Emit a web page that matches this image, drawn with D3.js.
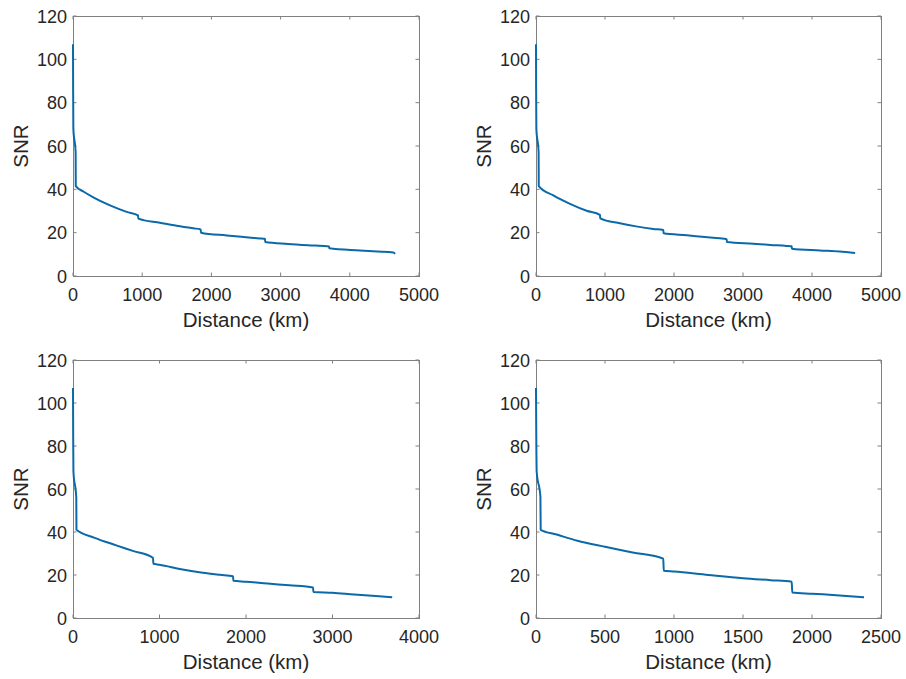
<!DOCTYPE html>
<meta charset="utf-8">
<title>SNR vs Distance</title>
<script src="https://d3js.org/d3.v7.min.js"></script>
<style>
	body { margin: 0; background: #fff; }
	svg { display: block; }
	text { font-family: "Liberation Sans", Arial, sans-serif; fill: #262626; }
	.box { fill: none; stroke: #808080; stroke-width: 1; }
	.tick line { stroke: #808080; }
	.curve { fill: none; stroke: #0a6aa9; stroke-width: 2; stroke-linejoin: round; }
</style>
<body>
<div id="chart"></div>
<script>

// --- data ---
var yTicks = [0, 20, 40, 60, 80, 100, 120];

var tlDist = [0, 2, 5, 38, 40, 150, 300, 535, 776, 940, 944, 1257, 1500, 1739, 1845, 1849, 2221, 2500, 2702, 2774, 2778, 3105, 3400, 3666, 3700, 3704, 4147, 4400, 4629, 4655];
var tlSnr  = [107, 85, 68, 57, 41.5, 39.0, 36.2, 32.6, 29.6, 28.0, 26.5, 24.6, 23.2, 22.0, 21.5, 20.0, 18.7, 17.9, 17.35, 17.15, 15.7, 14.8, 14.2, 13.75, 13.65, 12.8, 11.8, 11.3, 10.8, 10.2];

var trDist = [0, 2, 5, 38, 40, 251, 493, 734, 927, 931, 1217, 1450, 1700, 1845, 1849, 2187, 2450, 2666, 2763, 2767, 3149, 3400, 3632, 3705, 3709, 4115, 4400, 4625];
var trSnr  = [107, 85, 68, 57, 41.5, 37.2, 33.3, 30.1, 28.2, 26.6, 24.3, 22.9, 21.7, 21.2, 19.7, 18.8, 18.0, 17.4, 16.95, 15.7, 14.9, 14.35, 13.9, 13.7, 12.6, 11.8, 11.3, 10.6];

var blDist = [0, 2, 5, 38, 40, 250, 500, 700, 925, 929, 1000, 1250, 1500, 1700, 1850, 1854, 2000, 2250, 2500, 2775, 2779, 3000, 3250, 3500, 3690];
var blSnr  = [107, 85, 68, 56, 41, 37.3, 33.8, 31.1, 28.0, 25.2, 24.8, 22.7, 21.1, 20.1, 19.4, 17.3, 16.9, 16.0, 15.2, 14.2, 12.1, 11.7, 10.9, 10.2, 9.6];

var brDist = [0, 2, 5, 32, 34, 150, 300, 500, 700, 922, 926, 1000, 1250, 1500, 1700, 1853, 1857, 2000, 2200, 2377];
var brSnr  = [107, 85, 68, 56.4, 41, 38.8, 35.9, 33.1, 30.5, 27.6, 22.0, 21.6, 20.0, 18.5, 17.6, 16.9, 11.9, 11.3, 10.5, 9.6];

var xMaxes = [5000, 5000, 4000, 2500];
var xSteps = [1000, 1000, 1000, 500];

// --- layout ---
var W = 906, H = 679;
var frames = [
	{x: 73,  y: 16,  w: 346, h: 260},
	{x: 536, y: 16,  w: 345, h: 260},
	{x: 73,  y: 360, w: 346, h: 258},
	{x: 536, y: 360, w: 345, h: 258}
];
var series = [[tlDist, tlSnr], [trDist, trSnr], [blDist, blSnr], [brDist, brSnr]];

var svg = d3.select("#chart").append("svg")
	.attr("width", W)
	.attr("height", H);

frames.forEach(function(f, i) {
	var g = svg.append("g").attr("transform", "translate(" + f.x + "," + f.y + ")");

	var x = d3.scaleLinear().domain([0, xMaxes[i]]).range([0, f.w]);
	var y = d3.scaleLinear().domain([0, 120]).range([f.h, 0]);
	var xTicks = d3.range(0, xMaxes[i] + 1, xSteps[i]);

	// tick marks inside, on all four sides (matlab box style)
	var tl = 3.5;
	g.append("g").attr("class", "tick").selectAll("line.xb").data(xTicks).enter().append("line")
		.attr("x1", function(d){return x(d)}).attr("x2", function(d){return x(d)})
		.attr("y1", f.h).attr("y2", f.h - tl);
	g.append("g").attr("class", "tick").selectAll("line.xt").data(xTicks).enter().append("line")
		.attr("x1", function(d){return x(d)}).attr("x2", function(d){return x(d)})
		.attr("y1", 0).attr("y2", tl);
	g.append("g").attr("class", "tick").selectAll("line.yl").data(yTicks).enter().append("line")
		.attr("y1", function(d){return y(d)}).attr("y2", function(d){return y(d)})
		.attr("x1", 0).attr("x2", tl);
	g.append("g").attr("class", "tick").selectAll("line.yr").data(yTicks).enter().append("line")
		.attr("y1", function(d){return y(d)}).attr("y2", function(d){return y(d)})
		.attr("x1", f.w).attr("x2", f.w - tl);

	g.append("rect").attr("class", "box")
		.attr("x", 0.5).attr("y", 0.5)
		.attr("width", f.w).attr("height", f.h);

	// tick labels
	g.selectAll("text.xl").data(xTicks).enter().append("text")
		.attr("x", function(d){return x(d)})
		.attr("y", f.h + 25)
		.attr("text-anchor", "middle")
		.style("font-size", "18px")
		.text(function(d){return d});
	g.selectAll("text.yl").data(yTicks).enter().append("text")
		.attr("x", -6)
		.attr("y", function(d){return y(d) + 6.5})
		.attr("text-anchor", "end")
		.style("font-size", "18px")
		.text(function(d){return d});

	// axis labels
	g.append("text")
		.attr("x", f.w / 2)
		.attr("y", f.h + 51)
		.attr("text-anchor", "middle")
		.style("font-size", "20.5px")
		.text("Distance (km)");
	g.append("text")
		.attr("transform", "translate(-45," + (f.h / 2) + ") rotate(-90)")
		.attr("text-anchor", "middle")
		.style("font-size", "20.5px")
		.text("SNR");

	// curve
	var pts = series[i][0].map(function(d, k){ return [d, series[i][1][k]]; });
	var line = d3.line()
		.x(function(d){return x(d[0])})
		.y(function(d){return y(d[1])})
		.curve(d3.curveMonotoneX);
	g.append("path").attr("class", "curve").attr("d", line(pts));
});

</script>
</body>
